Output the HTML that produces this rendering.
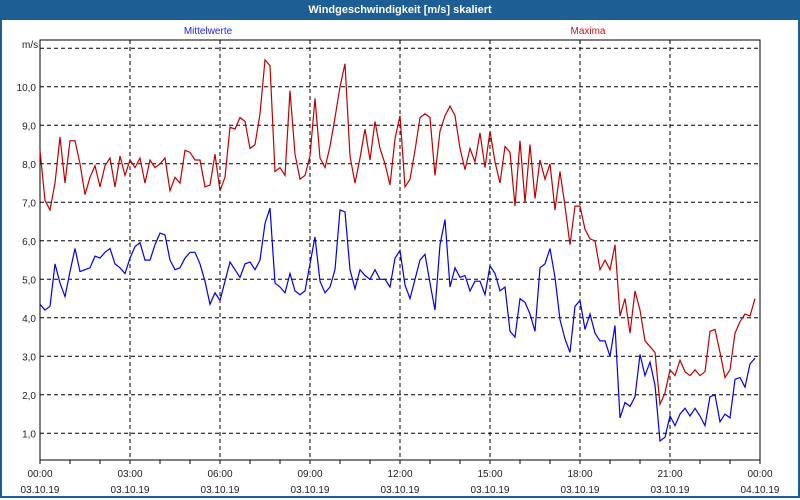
<!DOCTYPE html>
<html><head><meta charset="utf-8"><style>
body{margin:0;width:800px;height:500px;overflow:hidden;background:#fff;font-family:"Liberation Sans",sans-serif}
#win{position:absolute;left:0;top:0;width:796px;height:496px;border:2px solid #1d5e95;border-top:none}
#title{position:absolute;left:0;top:0;width:800px;height:20px;background:#1d5e95;color:#fff;font-weight:bold;font-size:11px;text-align:center;line-height:20px}
</style></head><body>
<div id="win"></div>
<div id="title">Windgeschwindigkeit [m/s] skaliert</div>
<svg id="chart" width="800" height="500" style="position:absolute;left:0;top:0" font-family="Liberation Sans, sans-serif" font-size="10"></svg>
<script>
const yTicks=[1,2,3,4,5,6,7,8,9,10,11];
const yLabels=["1,0","2,0","3,0","4,0","5,0","6,0","7,0","8,0","9,0","10,0",""];
const xTickHours=[0,3,6,9,12,15,18,21,24];
const xTimeLabels=["00:00","03:00","06:00","09:00","12:00","15:00","18:00","21:00","00:00"];
const xDateLabels=["03.10.19","03.10.19","03.10.19","03.10.19","03.10.19","03.10.19","03.10.19","03.10.19","04.10.19"];
const maxima=[8.35,7.05,6.8,7.5,8.7,7.5,8.6,8.6,8.0,7.2,7.65,7.95,7.4,7.95,8.15,7.4,8.2,7.7,8.1,7.9,8.15,7.5,8.1,7.9,8.0,8.15,7.3,7.65,7.5,8.35,8.3,8.1,8.1,7.4,7.45,8.25,7.3,7.65,8.95,8.9,9.2,9.1,8.4,8.5,9.3,10.7,10.55,7.8,7.9,7.7,9.9,8.25,7.6,7.7,8.2,9.7,8.15,7.9,8.45,9.2,10.0,10.6,8.2,7.5,8.15,8.9,8.1,9.1,8.4,8.0,7.45,8.65,9.25,7.4,7.6,8.35,9.2,9.3,9.2,7.7,8.85,9.25,9.5,9.25,8.4,7.85,8.4,8.05,8.8,7.9,8.85,8.05,7.5,8.45,8.3,6.9,8.6,7.0,8.5,7.1,8.1,7.6,8.0,6.8,7.8,6.9,5.9,6.9,6.9,6.3,6.05,6.0,5.25,5.5,5.25,5.9,4.05,4.5,3.6,4.7,4.2,3.4,3.25,3.1,1.75,2.05,2.65,2.5,2.9,2.6,2.5,2.65,2.5,2.6,3.65,3.7,3.1,2.45,2.65,3.6,3.9,4.1,4.05,4.5];
const mittel=[4.35,4.2,4.3,5.4,4.9,4.55,5.2,5.8,5.2,5.25,5.3,5.6,5.55,5.7,5.8,5.4,5.3,5.15,5.55,5.85,5.95,5.5,5.5,5.9,6.2,6.15,5.5,5.25,5.3,5.55,5.7,5.7,5.4,4.95,4.35,4.65,4.45,4.95,5.45,5.25,5.05,5.4,5.45,5.25,5.5,6.45,6.85,4.9,4.8,4.65,5.15,4.7,4.6,4.7,5.4,6.1,4.95,4.65,4.8,5.25,6.8,6.75,5.25,4.75,5.25,5.1,5.0,5.25,5.0,5.0,4.8,5.55,5.75,4.85,4.5,5.0,5.5,5.65,4.9,4.2,5.9,6.55,4.8,5.3,5.05,5.1,4.7,4.95,4.95,4.6,5.35,5.15,4.7,4.8,3.65,3.5,4.5,4.4,4.1,3.65,5.3,5.4,5.8,5.05,3.95,3.45,3.1,4.3,4.45,3.7,4.1,3.6,3.4,3.4,3.0,3.8,1.4,1.8,1.7,1.95,3.05,2.5,2.85,2.25,0.8,0.9,1.45,1.2,1.5,1.65,1.45,1.65,1.45,1.2,1.95,2.0,1.3,1.5,1.4,2.4,2.45,2.2,2.8,2.95];
const L=40,R=760,T=40,B=460;
const xScale=h=>L+(h/24)*(R-L);
const yScale=v=>471.8-v*38.5;
const svg=document.getElementById('chart');
const NS='http://www.w3.org/2000/svg';
function mk(tag,attrs){const e=document.createElementNS(NS,tag);for(const k in attrs)e.setAttribute(k,attrs[k]);svg.appendChild(e);return e;}
// grid
yTicks.forEach((v,i)=>{
 const g=mk('line',{x1:L,x2:R,y1:yScale(v),y2:yScale(v),stroke:'#000','stroke-dasharray':'4,3'});
 
 
 if(yLabels[i]){const t=mk('text',{x:36,y:yScale(v)+4,'text-anchor':'end',fill:'#222'});t.textContent=yLabels[i];
 
 }
});
xTickHours.forEach((h,i)=>{
 if(h>0&&h<24){const g=mk('line',{x1:xScale(h),x2:xScale(h),y1:T,y2:B,stroke:'#000','stroke-dasharray':'4,3'});
 
 }
 const t1=mk('text',{x:xScale(h),y:477,'text-anchor':'middle',fill:'#222'});t1.textContent=xTimeLabels[i];
 
 
 const t2=mk('text',{x:xScale(h),y:493,'text-anchor':'middle',fill:'#222'});t2.textContent=xDateLabels[i];
 
 
});
for(let h=0;h<=24;h++){const tk=mk('line',{x1:xScale(h),x2:xScale(h),y1:B,y2:B+4,stroke:'#000'});
 
 }
const frame=mk('rect',{x:L,y:T,width:R-L,height:B-T,fill:'none',stroke:'#000'});


function series(arr,color,name){
 const pts=arr.map((v,i)=>xScale(i/6).toFixed(1)+','+yScale(v).toFixed(1)).join(' ');
 const p=mk('polyline',{points:pts,fill:'none',stroke:color,'stroke-width':1.2});
 
 
}
series(maxima,'#c00000','maxima-line');
series(mittel,'#0000ee','mittelwerte-line');
const u=mk('text',{x:22,y:48,fill:'#222'});u.textContent='m/s';


const l1=mk('text',{x:208,y:34,'text-anchor':'middle',fill:'#2222ee'});l1.textContent='Mittelwerte';


const l2=mk('text',{x:588,y:34,'text-anchor':'middle',fill:'#cc1111'});l2.textContent='Maxima';


</script>
</body></html>
